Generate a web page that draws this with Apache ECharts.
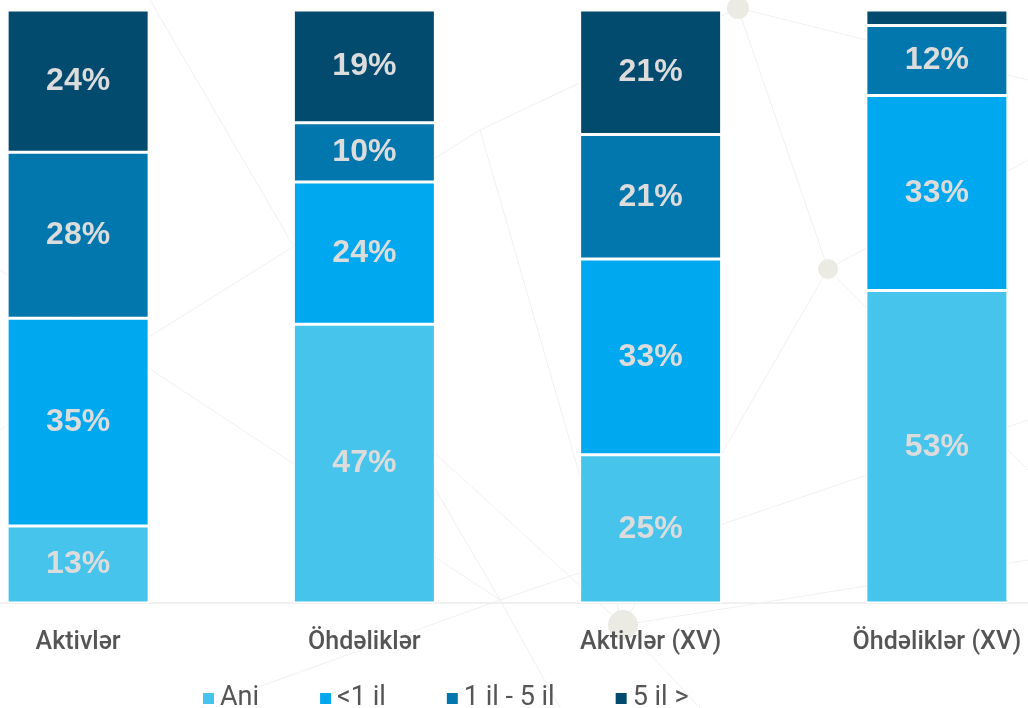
<!DOCTYPE html>
<html>
<head>
<meta charset="utf-8">
<script src="https://cdn.jsdelivr.net/npm/echarts@6/dist/echarts.min.js"></script>
<style>
html, body { margin: 0; padding: 0; background: #fff; overflow: hidden; width: 1028px; height: 708px; }
/* qrafik konteyneri pencereden genisdir: birinci ve sonuncu zolaqlar kenardan kesilir */
#main { position: absolute; left: -65px; top: 0; width: 1145px; height: 708px; }
</style>
</head>
<body>
<div id="main"></div>
<script>
var categories = ['Aktivlər', 'Öhdəliklər', 'Aktivlər (XV)', 'Öhdəliklər (XV)'];
var seriesNames = ['Ani', '<1 il', '1 il - 5 il', '5 il >'];
var aniData = [13, 47, 25, 52.7];
var lt1Data = [35, 24, 33, 32.9];
var y1to5Data = [28, 10, 21, 11.8];
var gt5Data = [24, 19, 21, 2.6];
var colors = ['#47C4EC', '#00A8F0', '#0277AE', '#034B6E'];

var myCharts = echarts.init(document.getElementById('main'));

// fon xetleri (dekor)
var bgLines = [
    [0, 270, 500, 600], [150, 0, 500, 600], [500, 600, 1028, 420], [500, 600, 560, 708],
    [200, 708, 500, 600], [480, 130, 738, 8], [738, 8, 828, 269], [828, 269, 1028, 160],
    [828, 269, 623, 625], [623, 625, 1028, 560], [623, 625, 700, 708], [480, 130, 623, 625],
    [0, 430, 480, 130], [738, 8, 1028, 80], [300, 330, 623, 625], [828, 269, 1028, 470]
];
var bgChildren = [];
for (var i = 0; i < bgLines.length; i++) {
    var l = bgLines[i];
    bgChildren.push({
        type: 'line', silent: true,
        shape: {x1: l[0], y1: l[1], x2: l[2], y2: l[3]},
        style: {stroke: '#f0f0f0', lineWidth: 1}
    });
}
var dots = [[738, 8, 11], [828, 269, 10], [623, 625, 15]];
for (var j = 0; j < dots.length; j++) {
    bgChildren.push({
        type: 'circle', silent: true,
        shape: {cx: dots[j][0], cy: dots[j][1], r: dots[j][2]},
        style: {fill: '#ebebe3'}
    });
}

function makeSeries(name, data, color) {
    return {
        name: name,
        type: 'bar',
        stack: 'total',
        barWidth: 142,
        data: data,
        itemStyle: {color: color, borderColor: '#fff', borderWidth: 1.5},
        label: {
            show: true,
            position: 'inside',
            color: '#dcdcdc',
            fontFamily: 'Liberation Sans, Arial, sans-serif',
            fontWeight: 'bold',
            fontSize: 32,
            formatter: function (p) { return p.value < 5 ? '' : Math.round(p.value) + '%'; }
        }
    };
}

var option = {
    animation: false,
    color: colors,
    graphic: [{type: 'group', x: 65, y: 0, z: -10, silent: true, children: bgChildren}],
    grid: {left: 0, right: 0, top: 10, bottom: 105, containLabel: false},
    legend: {
        data: seriesNames,
        bottom: -9,
        left: 261,
        itemWidth: 13,
        itemHeight: 13,
        itemGap: 59,
        icon: 'rect',
        textStyle: {color: '#555', fontSize: 27, fontFamily: 'Roboto, sans-serif'}
    },
    xAxis: {
        type: 'category',
        data: categories,
        axisLine: {show: true, lineStyle: {color: '#f0f0f0', width: 2}},
        axisTick: {show: false},
        axisLabel: {color: '#555', fontSize: 25, margin: 27, fontFamily: 'Roboto, sans-serif', fontWeight: 500}
    },
    yAxis: {type: 'value', min: 0, max: 100, show: false},
    series: [
        makeSeries(seriesNames[0], aniData, colors[0]),
        makeSeries(seriesNames[1], lt1Data, colors[1]),
        makeSeries(seriesNames[2], y1to5Data, colors[2]),
        makeSeries(seriesNames[3], gt5Data, colors[3])
    ]
};
myCharts.setOption(option);
</script>
</body>
</html>
